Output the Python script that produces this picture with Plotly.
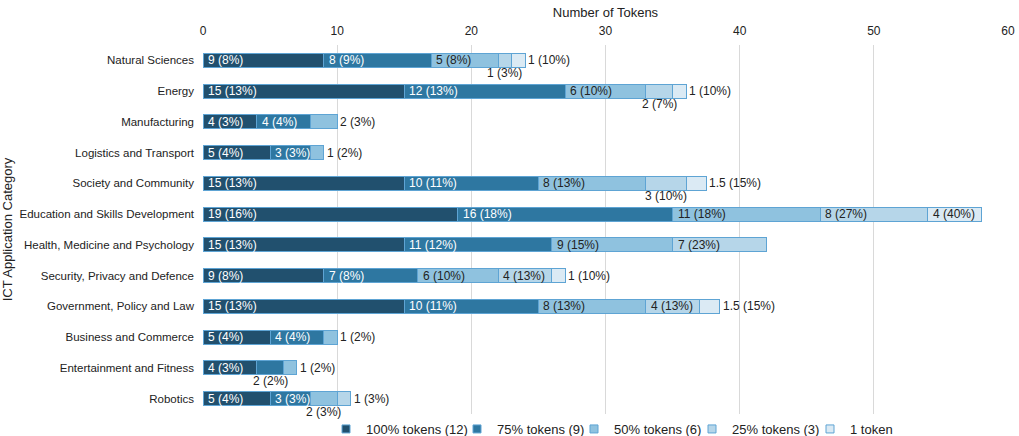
import plotly.graph_objects as go

categories = [
    "Natural Sciences", "Energy", "Manufacturing", "Logistics and Transport",
    "Society and Community", "Education and Skills Development",
    "Health, Medicine and Psychology", "Security, Privacy and Defence",
    "Government, Policy and Law", "Business and Commerce",
    "Entertainment and Fitness", "Robotics",
]

series_names = ["100% tokens (12)", "75% tokens (9)", "50% tokens (6)", "25% tokens (3)", "1 token"]

v100 = [9, 15, 4, 5, 15, 19, 15, 9, 15, 5, 4, 5]
p100 = [8, 13, 3, 4, 13, 16, 13, 8, 13, 4, 3, 4]
v75 = [8, 12, 4, 3, 10, 16, 11, 7, 10, 4, 2, 3]
p75 = [9, 13, 4, 3, 11, 18, 12, 8, 11, 4, 2, 3]
v50 = [5, 6, 2, 1, 8, 11, 9, 6, 8, 1, 1, 2]
p50 = [8, 10, 3, 2, 13, 18, 15, 10, 13, 2, 2, 3]
v25 = [1, 2, 0, 0, 3, 8, 7, 4, 4, 0, 0, 1]
p25 = [3, 7, 0, 0, 10, 27, 23, 13, 13, 0, 0, 3]
v1 = [1, 1, 0, 0, 1.5, 4, 0, 1, 1.5, 0, 0, 0]
p1 = [10, 10, 0, 0, 15, 40, 0, 10, 15, 0, 0, 0]

values = [v100, v75, v50, v25, v1]
percents = [p100, p75, p50, p25, p1]

colors = ["#21506e", "#2e77a1", "#8fc2df", "#b6d6e9", "#dbeaf4"]
text_colors = ["white", "white", "#222222", "#222222", "#222222"]
edge = "#5ea4d4"
FONT = "Liberation Sans, Arial, sans-serif"
TXT = "#222222"

XMAX = 60
PLOT_L, PLOT_W = 203, 805
# approximate left edge (px) of each legend entry's text
legend_text_px = [366, 497, 614, 732, 850]
legend_ids = ["legend", "legend2", "legend3", "legend4", "legend5"]

fig = go.Figure()
for name, vals, col in zip(series_names, values, colors):
    fig.add_trace(go.Bar(
        y=categories, x=vals, name=name, orientation="h",
        marker=dict(color=col, line=dict(color=edge, width=1)),
        hoverinfo="x+y+name", showlegend=False,
    ))
# legend entries with small square symbols
for name, col, lid in zip(series_names, colors, legend_ids):
    fig.add_trace(go.Scatter(
        x=[None], y=[None], mode="markers", name=name, legend=lid,
        marker=dict(symbol="square", size=8, color=col, line=dict(color=edge, width=1)),
    ))

# data labels
px_per_unit = PLOT_W / XMAX
annotations = []
for i, cat in enumerate(categories):
    segs = [(values[k][i], percents[k][i], k) for k in range(5) if values[k][i] > 0]
    start = 0.0
    for j, (v, p, k) in enumerate(segs):
        label = f"{v:g} ({p}%)"
        est_w = 5.6 * len(label)
        seg_px = v * px_per_unit
        is_last = j == len(segs) - 1
        if est_w + 4 <= seg_px:
            annotations.append(dict(x=start, y=cat, text=label, showarrow=False,
                                    xanchor="left", xshift=3,
                                    font=dict(color=text_colors[k], size=12, family=FONT)))
        elif is_last:
            annotations.append(dict(x=start + v, y=cat, text=label, showarrow=False,
                                    xanchor="left", xshift=1,
                                    font=dict(color=TXT, size=12, family=FONT)))
        else:
            annotations.append(dict(x=start + v / 2, y=cat, text=label, showarrow=False,
                                    xanchor="center", yshift=-13,
                                    font=dict(color=TXT, size=12, family=FONT)))
        start += v

legend_layout = {}
for lid, tx in zip(legend_ids, legend_text_px):
    legend_layout[lid] = dict(
        orientation="h", x=(tx - 40 - PLOT_L) / PLOT_W, xanchor="left",
        y=0.0, yanchor="top",
        font=dict(size=13, family=FONT, color=TXT),
        bgcolor="rgba(0,0,0,0)", itemwidth=30,
    )

fig.update_layout(
    template="none",
    barmode="stack",
    bargap=0.55,
    width=1019, height=436,
    margin=dict(l=203, r=11, t=45, b=22, pad=0, autoexpand=False),
    paper_bgcolor="white", plot_bgcolor="white",
    font=dict(family=FONT, size=12, color=TXT),
    annotations=annotations,
    showlegend=True,
    xaxis=dict(side="top", range=[0, XMAX], dtick=10, showgrid=True,
               gridcolor="#d9d9d9", gridwidth=1, zeroline=False, automargin=False,
               ticks="", ticklabelstandoff=7,
               tickfont=dict(size=12, family=FONT, color=TXT),
               title=dict(text="Number of Tokens", font=dict(size=13, family=FONT, color=TXT), standoff=3),
               showline=False),
    yaxis=dict(range=[len(categories) - 0.5, -0.5], autorange=False,
               showgrid=False, showline=False, automargin=False,
               ticks="", tickfont=dict(size=11.5, family=FONT, color=TXT),
               ticklabelstandoff=8,
               title=dict(text="ICT Application Category", font=dict(size=13, family=FONT, color=TXT), standoff=4)),
    **legend_layout,
)

fig.write_html("out.html", config={"displayModeBar": False},
               post_script="document.body.style.margin='0';")
